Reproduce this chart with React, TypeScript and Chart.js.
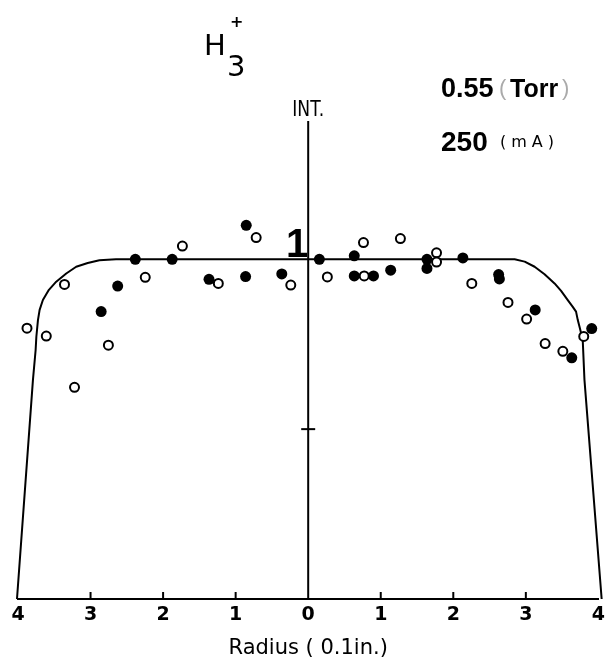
import React, { useEffect, useRef } from "react";
import { Chart, registerables } from "chart.js";

Chart.register(...registerables);

// Radius positions (0.1 in.), negative = left side of centre
const filledX = [-0.854, -2.383, -1.875, -2.626, -2.854, -1.367, -0.863, -0.364, 0.154, 0.635, 0.635, 0.9, 1.137, 1.637, 1.637, 2.132, 2.625, 2.635, 3.129, 3.633, 3.908];
const filledY = [1.1, 1.0, 1.0, 0.921, 0.846, 0.941, 0.949, 0.957, 1.0, 1.01, 0.951, 0.951, 0.968, 1.0, 0.973, 1.004, 0.955, 0.942, 0.851, 0.71, 0.796];

const openX = [-0.717, -1.734, -2.246, -3.359, -3.876, -3.61, -2.754, -3.221, -1.239, -0.24, 0.264, 0.762, 0.772, 1.271, 1.769, 1.769, 2.255, 2.754, 3.011, 3.266, 3.51, 3.798];
const openY = [1.064, 1.039, 0.947, 0.926, 0.797, 0.774, 0.747, 0.623, 0.929, 0.924, 0.948, 1.049, 0.951, 1.061, 1.019, 0.992, 0.929, 0.873, 0.824, 0.752, 0.729, 0.773];

const curveX = [-4.014, -3.794, -3.757, -3.747, -3.725, -3.702, -3.657, -3.574, -3.473, -3.335, -3.198, -3.039, -2.878, -2.649, 2.846, 2.984, 3.121, 3.258, 3.396, 3.486, 3.578, 3.647, 3.692, 3.716, 3.739, 3.784, 3.808, 4.045];
const curveY = [0, 0.645, 0.733, 0.772, 0.821, 0.851, 0.88, 0.91, 0.934, 0.958, 0.978, 0.989, 0.997, 1.0, 1.0, 0.993, 0.978, 0.956, 0.929, 0.907, 0.88, 0.86, 0.846, 0.821, 0.802, 0.763, 0.645, 0];

const xTickValues = [-4, -3, -2, -1, 0, 1, 2, 3, 4];
const innerTickValues = [-3, -2, -1, 1, 2, 3];
const yMarkTick = 0.5;
const yUnitLabel = "1";
const xTitle = "Radius ( 0.1in.)";
const yTitle = "INT.";
const ionMain = "H";
const ionSub = "3";
const ionSup = "+";
const pressure = "0.55";
const pressureUnit = "Torr";
const current = "250";
const currentUnit = "(mA)";

const toPts = (xs: number[], ys: number[]) => xs.map((x, i) => ({ x, y: ys[i] }));

const axisPlugin = {
  id: "centerAxis",
  beforeDatasetsDraw(chart: any) {
    const { ctx, scales, chartArea } = chart;
    const xs = scales.x, ys = scales.y;
    const x0 = xs.getPixelForValue(0);
    ctx.save();
    ctx.strokeStyle = "#000";
    ctx.lineWidth = 2;
    ctx.beginPath();
    ctx.moveTo(x0, ys.getPixelForValue(0));
    ctx.lineTo(x0, chartArea.top);
    ctx.stroke();
    const yt = ys.getPixelForValue(yMarkTick);
    ctx.beginPath();
    ctx.moveTo(x0 - 7, yt);
    ctx.lineTo(x0 + 7, yt);
    ctx.stroke();
    const yb = ys.getPixelForValue(0);
    innerTickValues.forEach((v) => {
      const px = xs.getPixelForValue(v);
      ctx.beginPath();
      ctx.moveTo(px, yb);
      ctx.lineTo(px, yb - 7);
      ctx.stroke();
    });
    ctx.restore();
  },
  afterDraw(chart: any) {
    const { ctx, scales, chartArea } = chart;
    const xs = scales.x, ys = scales.y;
    const x0 = xs.getPixelForValue(0);
    ctx.save();
    ctx.fillStyle = "#000";
    ctx.textBaseline = "alphabetic";
    // "1" label
    ctx.font = "bold 40px 'Liberation Sans'";
    ctx.textAlign = "center";
    ctx.fillText(yUnitLabel, x0 - 11, ys.getPixelForValue(1) - 2);
    // INT.
    ctx.save();
    ctx.translate(x0, chartArea.top - 5);
    ctx.scale(0.78, 1);
    ctx.font = "22px 'DejaVu Sans'";
    ctx.textAlign = "center";
    ctx.fillText(yTitle, 0, 0);
    ctx.restore();
    // H3+
    ctx.textAlign = "left";
    ctx.font = "29px 'DejaVu Sans'";
    ctx.fillText(ionMain, 204, 55);
    ctx.fillText(ionSub, 227, 76);
    ctx.font = "bold 16px 'DejaVu Sans'";
    ctx.fillText(ionSup, 230, 27);
    // pressure
    ctx.font = "bold 27px 'Liberation Sans'";
    ctx.fillText(pressure, 441, 97);
    ctx.fillStyle = "#aaa";
    ctx.font = "22px 'Liberation Sans'";
    ctx.fillText("(", 499, 95);
    ctx.fillStyle = "#000";
    ctx.font = "bold 25px 'Liberation Sans'";
    ctx.fillText(pressureUnit, 510, 97);
    ctx.fillStyle = "#aaa";
    ctx.font = "22px 'Liberation Sans'";
    ctx.fillText(")", 562, 95);
    // current
    ctx.fillStyle = "#000";
    ctx.font = "bold 28px 'Liberation Sans'";
    ctx.fillText(current, 441, 151);
    ctx.font = "16px 'DejaVu Sans'";
    (ctx as any).letterSpacing = "5px";
    ctx.fillText(currentUnit, 500, 147);
    ctx.restore();
  },
};

export default function App() {
  const ref = useRef<HTMLCanvasElement | null>(null);
  useEffect(() => {
    if (!ref.current) return;
    const chart = new Chart(ref.current, {
      type: "scatter",
      data: {
        datasets: [
          {
            label: "profile",
            data: toPts(curveX, curveY),
            showLine: true,
            borderColor: "#000",
            borderWidth: 2,
            pointRadius: 0,
            tension: 0,
            borderJoinStyle: "round",
            clip: false,
            order: 3,
          } as any,
          {
            label: "open",
            data: toPts(openX, openY),
            pointRadius: 4.5,
            backgroundColor: "#fff",
            borderColor: "#000",
            borderWidth: 2,
            order: 2,
          },
          {
            label: "filled",
            data: toPts(filledX, filledY),
            pointRadius: 5.5,
            backgroundColor: "#000",
            borderColor: "#000",
            borderWidth: 0,
            order: 1,
          },
        ],
      },
      options: {
        animation: false,
        responsive: false,
        layout: { padding: { left: 18, right: 9, top: 121, bottom: 0 } },
        plugins: { legend: { display: false }, tooltip: { enabled: false } },
        scales: {
          x: {
            type: "linear",
            min: -4,
            max: 4,
            afterBuildTicks: (scale: any) => {
              scale.ticks = xTickValues.map((v) => ({ value: v }));
            },
            afterFit: (scale: any) => {
              scale.height = 63;
            },
            ticks: {
              callback: (v: any) => String(Math.abs(Number(v))),
              color: "#000",
              font: { family: "'DejaVu Sans'", size: 19, weight: "bold" },
              padding: 5,
              maxRotation: 0,
              autoSkip: false,
            },
            grid: { drawOnChartArea: false, drawTicks: false },
            border: { display: true, color: "#000", width: 2 },
            title: {
              display: true,
              text: xTitle,
              color: "#000",
              font: { family: "'DejaVu Sans'", size: 21 },
              padding: { top: 0, bottom: 1 },
            },
          },
          y: {
            display: false,
            min: 0,
            max: 1.407,
          },
        },
      },
      plugins: [axisPlugin],
    });
    return () => chart.destroy();
  }, []);
  return (
    <div style={{ position: "fixed", left: 0, top: 0, width: 610, height: 662, background: "#fff" }}>
      <canvas ref={ref} width={610} height={662} />
    </div>
  );
}
